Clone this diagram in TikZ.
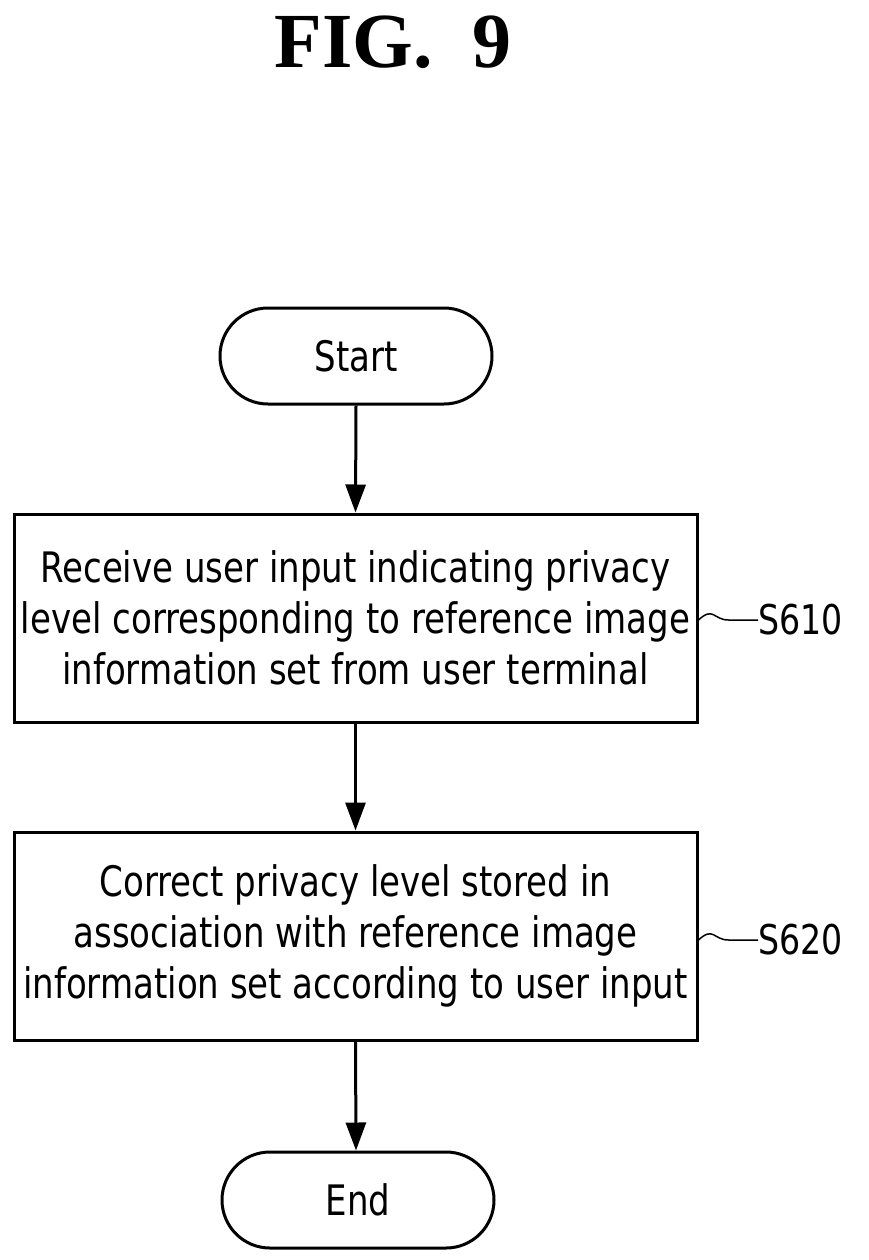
\documentclass[tikz,border=0pt]{standalone}
\usepackage{fontspec}
\setmainfont[FakeStretch=0.9]{DejaVu Sans Condensed}
\newfontfamily\titlefont{Liberation Serif}
\usetikzlibrary{arrows.meta}
\begin{document}
\begin{tikzpicture}[x=1pt,y=-1pt,
  term/.style={draw,line width=3pt,rounded corners=48pt,minimum width=272pt,minimum height=96pt,font=\fontsize{42}{44}\selectfont},
  procbox/.style={draw,line width=3pt,minimum width=683pt,minimum height=208pt,align=center,font=\fontsize{42}{51}\selectfont,inner sep=0pt},
  arr/.style={line width=3pt,-{Triangle[length=28pt,width=20pt]}},
  lab/.style={font=\fontsize{41}{44}\selectfont,anchor=west,inner sep=0pt}]
\useasboundingbox (0,0) rectangle (869,1260);
\node[font=\titlefont\bfseries\fontsize{78}{80}\selectfont] (title) at (393,42) {FIG.\ \ 9};
\node[term] (start) at (356,356) {Start};
\node[procbox] (s1) at (355.5,618) {Receive user input indicating privacy\\level corresponding to reference image\\information set from user terminal};
\node[procbox] (s2) at (355.5,936) {Correct privacy level stored in\\association with reference image\\information set according to user input};
\node[term] (end) at (358,1200) {End};
\draw[arr] (start.south) -- (s1.north);
\draw[arr] (s1.south) -- (s2.north);
\draw[arr] (s2.south) -- ([xshift=-2pt]end.north);
\node[lab] (l1) at (758,620) {S610};
\node[lab] (l2) at (758,940) {S620};
\draw[line width=1.5pt] (s1.east) ++(0,2) .. controls +(15,-14) and +(-15,0) .. +(30,0) .. controls +(15,0) and +(-12,0) .. (l1.west);
\draw[line width=1.5pt] (s2.east) ++(0,4) .. controls +(15,-14) and +(-15,0) .. +(30,0) .. controls +(15,0) and +(-12,0) .. (l2.west);
\end{tikzpicture}
\end{document}
